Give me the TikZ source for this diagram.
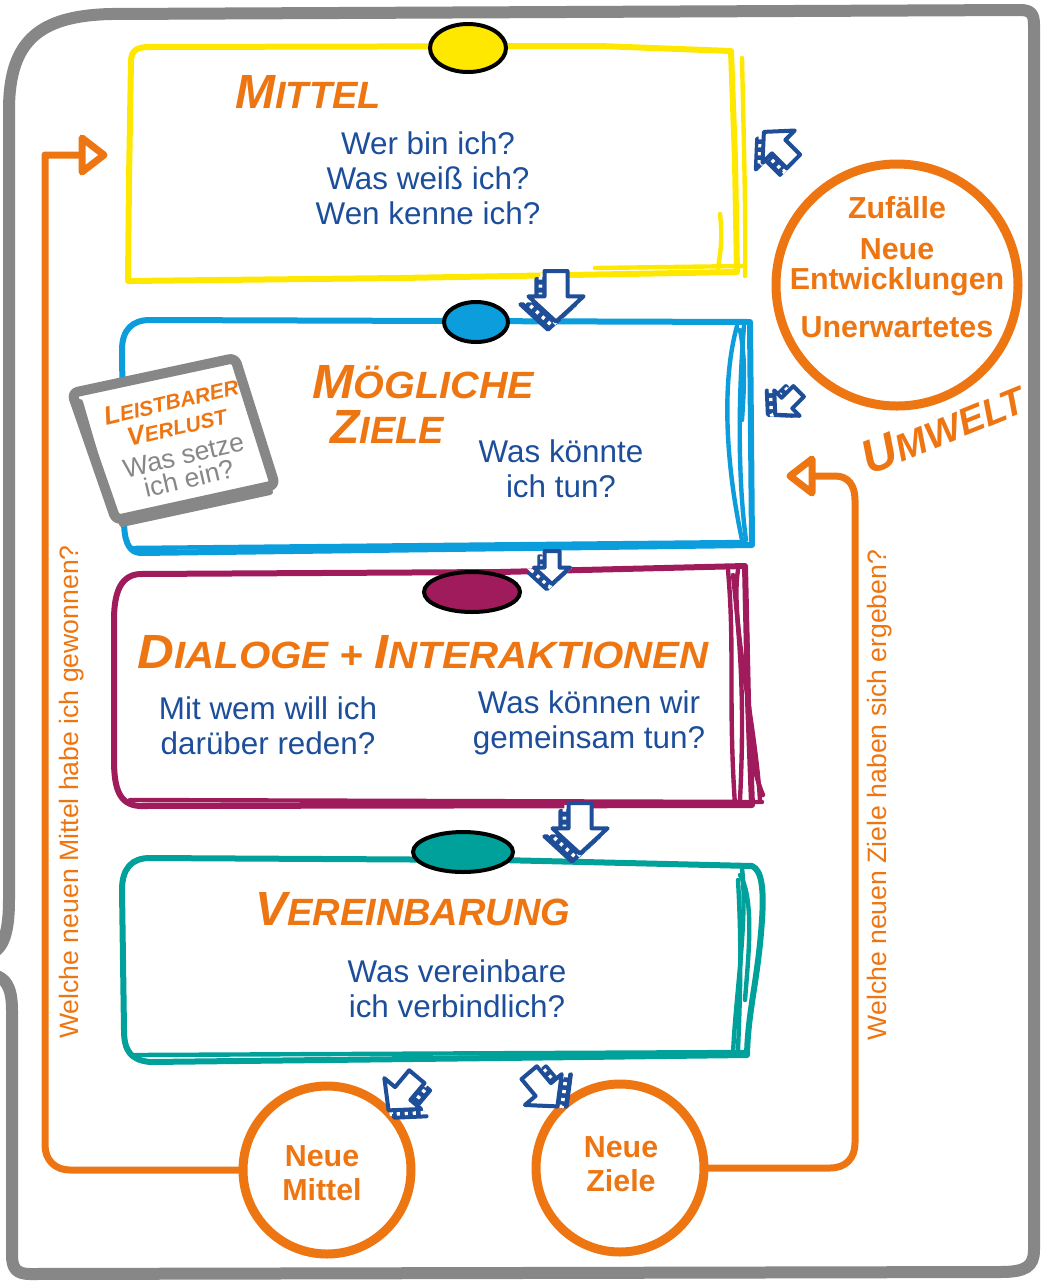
\documentclass[tikz,border=0pt]{standalone}
\usepackage{fontspec}
\setmainfont{Liberation Sans}
\usetikzlibrary{shapes.geometric}
\definecolor{ora}{HTML}{EE7612}
\definecolor{txt}{HTML}{1C4E9B}
\definecolor{yel}{HTML}{FFE800}
\definecolor{cya}{HTML}{0C9DDC}
\definecolor{pur}{HTML}{A01B5B}
\definecolor{tea}{HTML}{00A19A}
\definecolor{gry}{HTML}{878787}
\definecolor{arr}{HTML}{1F4E98}
\newcommand\hdr[2]{{\fontsize{24}{26}\selectfont #1}{\fontsize{19}{26}\selectfont #2}}
\newcommand\hdrs[2]{{\fontsize{13}{14}\selectfont #1}{\fontsize{10.5}{14}\selectfont #2}}
\newcommand\arrshape{(-10,-20)--(10,-20)--(10,2)--(24,2)--(0,24)--(-24,2)--(-10,2)--cycle}
\tikzset{
  bdx/.store in=\bdx, bdy/.store in=\bdy, bdx=-7, bdy=7,
  barrow/.pic={
    \draw[arr, fill=arr, line width=2pt, line join=round, shift={(\bdx,\bdy)}] \arrshape;
    \draw[white, line width=1.8pt, dash pattern=on 1.6pt off 2.4pt, shift={({0.5*\bdx},{0.5*\bdy})}] \arrshape;
    \draw[arr, fill=white, line width=2pt, line join=round] \arrshape;
  }
}
\begin{document}
\begin{tikzpicture}[x=0.5pt,y=-0.5pt,
  frame/.style={draw=gry, line width=6pt, line cap=round, line join=round},
  hand/.style={line width=3pt, line cap=round, line join=round},
  scr/.style={line width=2.2pt, line cap=round},
  body/.style={text=txt, font=\fontsize{15.7}{17.5}\selectfont, align=center, inner sep=0pt},
  ttl/.style={text=ora, font=\bfseries\itshape, anchor=base west, inner sep=0pt},
  circ/.style={circle, draw=ora, line width=4.5pt, fill=white, inner sep=0pt},
  ctext/.style={text=ora, font=\bfseries\fontsize{15.2}{17}\selectfont, align=center, inner sep=0pt},
  loop/.style={draw=ora, line width=3.5pt, line join=round, line cap=round},
  side/.style={text=ora, font=\fontsize{13.3}{15}\selectfont, rotate=90, inner sep=0pt},
  oval/.style={ellipse, draw=black, line width=2pt, inner sep=0pt}]
\useasboundingbox (0,0) rectangle (1040,1281);
\fill[white] (0,0) rectangle (1040,1281);

% outer frame
\draw[frame] (-6,952) .. controls (4,946) and (9,930) .. (9,900) -- (9,110) .. controls (9,40) and (40,16) .. (110,14) -- (1020,10) .. controls (1031,10) and (1034,14) .. (1034,25) -- (1034,1250) .. controls (1034,1267) and (1025,1272) .. (1000,1272) -- (30,1274) .. controls (16,1274) and (12,1268) .. (12,1255) -- (12,1010) .. controls (12,986) and (5,978) .. (-6,975);

% circles
\node[circ, minimum size=121pt] (umw) at (897,285) {};
\node[circ, minimum size=84pt] (nm) at (327,1170) {};
\node[circ, minimum size=84pt] (nz) at (620,1168) {};

% loops
\coordinate (inM) at (82,155);
\coordinate (inZ) at (812,476);
\draw[loop] (nm.west) -- (70,1170) .. controls (55,1170) and (45,1160) .. (45,1145) -- (45,155) -- (inM);
\draw[loop, fill=white] (82,138) -- (104,155) -- (82,172) -- cycle;
\draw[loop] (nz.east) -- (830,1168) .. controls (846,1168) and (855,1158) .. (855,1143) -- (855,500) .. controls (855,485) and (848,476) .. (835,476) -- (inZ);
\draw[loop, fill=white] (812,459) -- (790,476) -- (812,493) -- cycle;
\node[side] (lq) at (72,792) {Welche neuen Mittel habe ich gewonnen?};
\node[side] (rq) at (880,795) {Welche neuen Ziele haben sich ergeben?};

% yellow box
\draw[hand, draw=yel] (131,62) .. controls (131,50) and (137,47) .. (150,47) -- (600,46) -- (731,51) -- (735,160) -- (737,272) -- (400,278) -- (128,281) -- (129,180) -- cycle;
\draw[scr, draw=yel] (720,214) .. controls (723,240) and (720,255) .. (718,268);
\draw[scr, draw=yel] (742,58) .. controls (744,150) and (746,220) .. (745,276);
\draw[scr, draw=yel] (595,268) -- (745,266);
\node[oval, fill=yel, minimum width=38pt, minimum height=24pt] (oy) at (468,48) {};

% blue box
\draw[hand, draw=cya] (150,320) -- (750,322) -- (752,545) -- (140,553) .. controls (128,552) and (124,540) .. (124,520) -- (122,350) .. controls (122,330) and (132,320) .. (150,320) -- cycle;
\draw[scr, draw=cya] (737,326) .. controls (722,380) and (725,460) .. (742,540);
\draw[scr, draw=cya] (744,326) .. controls (738,400) and (738,480) .. (746,540);
\draw[scr, draw=cya] (740,330) .. controls (746,360) and (744,390) .. (742,420);
\draw[scr, draw=cya] (130,548) -- (745,542);
\node[oval, fill=cya, minimum width=32pt, minimum height=20pt] (ob) at (476,322) {};

% purple box
\draw[hand, draw=pur] (140,574) -- (500,572) -- (745,566) -- (748,700) -- (752,805) -- (140,806) .. controls (120,805) and (114,790) .. (114,760) -- (114,620) .. controls (114,590) and (122,575) .. (140,574) -- cycle;
\draw[scr, draw=pur] (728,570) .. controls (735,650) and (728,700) .. (735,805);
\draw[scr, draw=pur] (733,575) .. controls (740,640) and (745,700) .. (740,800);
\draw[scr, draw=pur] (738,570) .. controls (730,620) and (755,720) .. (760,800);
\draw[scr, draw=pur] (745,600) .. controls (752,680) and (740,740) .. (763,795);
\draw[scr, draw=pur] (130,800) -- (762,802);
\node[oval, fill=pur, minimum width=48pt, minimum height=20pt] (op) at (472,592) {};

% teal box
\draw[hand, draw=tea] (150,858) -- (500,860) -- (752,866) .. controls (762,870) and (764,890) .. (762,920) .. controls (758,980) and (748,1010) .. (747,1055) -- (500,1058) -- (150,1062) .. controls (130,1060) and (124,1050) .. (124,1030) -- (122,890) .. controls (122,868) and (132,858) .. (150,858) -- cycle;
\draw[scr, draw=tea] (742,868) .. controls (748,920) and (735,1000) .. (733,1055);
\draw[scr, draw=tea] (740,875) .. controls (755,900) and (748,960) .. (745,1000);
\draw[scr, draw=tea] (738,880) .. controls (742,950) and (740,1000) .. (738,1050);
\draw[scr, draw=tea] (135,1055) -- (745,1052);
\node[oval, fill=tea, minimum width=50pt, minimum height=20pt] (ot) at (463,852) {};

% card
\draw[draw=gry, line width=5pt, line join=round, fill=white, rounded corners=3pt] (72,393) -- (235,358) -- (275,485) -- (116,520) -- cycle;
\draw[draw=gry, line width=3pt, line cap=round] (80,402) -- (112,512) (122,524) -- (270,492) (238,364) -- (270,470);
\node[rotate=13, align=center, inner sep=0pt] (card) at (180,440) {\textcolor{ora}{\bfseries\itshape\hdrs{L}{EISTBARER}}\\[1pt]\textcolor{ora}{\bfseries\itshape\hdrs{V}{ERLUST}}\\[3pt]\textcolor{gry}{\fontsize{13.3}{14.5}\selectfont Was setze}\\\textcolor{gry}{\fontsize{13.3}{14.5}\selectfont ich ein?}};

% titles
\node[ttl] (t1) at (235,108) {\hdr{M}{ITTEL}};
\node[ttl] (t2) at (312,398) {\scalebox{1.04}[1]{\hdr{M}{ÖGLICHE}}};
\node[ttl] (t2b) at (330,443) {\hdr{Z}{IELE}};
\node[ttl] (t3) at (137,668) {\scalebox{1.06}[1]{\hdr{D}{IALOGE + }\hdr{I}{NTERAKTIONEN}}};
\node[ttl] (t4) at (255,925) {\hdr{V}{EREINBARUNG}};
\node[ttl, anchor=center, rotate=22] (uw) at (943,428) {\hdr{U}{MWELT}};

% body texts
\node[body] (b1) at (428,178) {Wer bin ich?\\Was weiß ich?\\Wen kenne ich?};
\node[body] (b2) at (561,469) {Was könnte\\ich tun?};
\node[body] (b3) at (268,726) {Mit wem will ich\\darüber reden?};
\node[body] (b4) at (589,723) {Was können wir\\gemeinsam tun?};
\node[body] (b5) at (457,989) {Was vereinbare\\ich verbindlich?};

% circle texts
\node[ctext] (c1) at (897,208) {Zufälle};
\node[ctext, font=\bfseries\fontsize{15.2}{15}\selectfont] (c2) at (897,267) {Neue\\Entwicklungen};
\node[ctext] (c3) at (897,327) {Unerwartetes};
\node[ctext] (c4) at (322,1173) {Neue\\Mittel};
\node[ctext] (c5) at (621,1164) {Neue\\Ziele};

% blue arrows
\pic[scale=1.15] at (556,294) {barrow};
\pic[scale=0.75] at (552,566) {barrow};
\pic[scale=1.15] at (580,826) {barrow};
\pic[scale=0.95, rotate=-135, bdx=10, bdy=0] at (780,148) {barrow};
\pic[scale=0.75, rotate=-45, bdx=-7, bdy=7] at (788,402) {barrow};
\pic[scale=1.0, rotate=-40, bdx=9, bdy=2] at (404,1092) {barrow};
\pic[scale=1.0, rotate=40, bdx=7, bdy=6] at (542,1088) {barrow};
\end{tikzpicture}
\end{document}
